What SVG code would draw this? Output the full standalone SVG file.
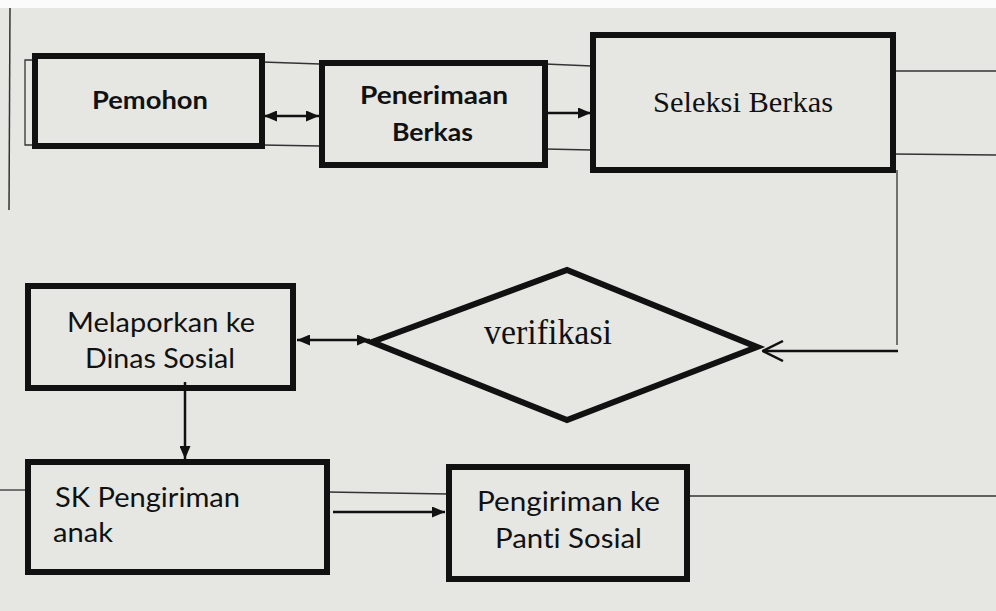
<svg xmlns="http://www.w3.org/2000/svg" width="996" height="611" viewBox="0 0 996 611">
<defs>
<style>
.box{fill:none;stroke:#111;stroke-width:6}
.thin{fill:none;stroke:#333;stroke-width:1.3}
.conn{fill:none;stroke:#111;stroke-width:2.5}
text{font-variant-ligatures:none}
.sans{font-family:Lato,"Open Sans","Liberation Sans",sans-serif;fill:#111}
.serif{font-family:"Liberation Serif","DejaVu Serif",serif;fill:#111}
</style>
<marker id="ah" viewBox="0 0 13 11" refX="13" refY="5.5" markerWidth="13" markerHeight="11" markerUnits="userSpaceOnUse" orient="auto-start-reverse">
<path d="M0,0 L13,5.5 L0,11 Z" fill="#111"/>
</marker>
<marker id="open" viewBox="0 0 22 22" refX="21" refY="11" markerWidth="22" markerHeight="22" markerUnits="userSpaceOnUse" orient="auto">
<path d="M1,1 L21,11 L1,21" fill="none" stroke="#111" stroke-width="2.5"/>
</marker>
</defs>
<rect x="0" y="0" width="996" height="611" fill="#e6e7e3"/>
<rect x="0" y="0" width="996" height="8" fill="#fbfbfb"/>
<line x1="10" y1="8" x2="9" y2="210" stroke="#333" stroke-width="1.5"/>

<g id="connectors">
<path class="thin" d="M35,60 H25 V145 H35"/>
<line class="thin" x1="262" y1="62" x2="320" y2="64"/>
<line class="thin" x1="262" y1="145" x2="320" y2="146"/>
<line class="thin" x1="545" y1="64" x2="592" y2="66"/>
<line class="thin" x1="545" y1="149" x2="592" y2="150"/>
<line class="thin" x1="893" y1="71" x2="996" y2="71"/>
<line class="thin" x1="893" y1="154" x2="996" y2="155"/>
<line class="thin" x1="0" y1="490" x2="27" y2="490"/>
<line class="thin" x1="327" y1="492" x2="448" y2="494"/>
<line class="thin" x1="687" y1="496" x2="996" y2="496"/>
<line class="conn" x1="264" y1="116" x2="319" y2="116" marker-start="url(#ah)" marker-end="url(#ah)"/>
<line class="conn" x1="548" y1="113" x2="591" y2="113" marker-end="url(#ah)"/>
<path class="thin" d="M897,170 V345"/>
<line class="conn" x1="898" y1="351" x2="763" y2="351" stroke-width="3" marker-end="url(#open)"/>
<line class="conn" x1="297" y1="340" x2="370" y2="340" marker-start="url(#ah)" marker-end="url(#ah)"/>
<line class="conn" x1="185" y1="382" x2="185" y2="459" stroke-width="2" marker-end="url(#ah)"/>
<line class="conn" x1="333" y1="512" x2="445" y2="512" marker-end="url(#ah)"/>
</g>

<g id="pemohon">
<rect class="box" x="35" y="56" width="227" height="90"/>
<text class="sans" x="92" y="109" font-size="25" font-weight="bold" textLength="116" lengthAdjust="spacingAndGlyphs">Pemohon</text>
</g>
<g id="penerimaan">
<rect class="box" x="322" y="63" width="223" height="102"/>
<text class="sans" x="360" y="104" font-size="25" font-weight="bold" textLength="148" lengthAdjust="spacingAndGlyphs">Penerimaan</text>
<text class="sans" x="392" y="141" font-size="25" font-weight="bold" textLength="81" lengthAdjust="spacingAndGlyphs">Berkas</text>
</g>
<g id="seleksi">
<rect class="box" x="593" y="35" width="300" height="135"/>
<text class="serif" x="653" y="112" font-size="30" textLength="180" lengthAdjust="spacingAndGlyphs">Seleksi Berkas</text>
</g>
<g id="verifikasi">
<polygon points="372,342 567,270 757,347 567,420" fill="none" stroke="#111" stroke-width="6" stroke-linejoin="miter"/>
<text class="serif" x="484" y="344" font-size="35" textLength="128" lengthAdjust="spacingAndGlyphs">verifikasi</text>
</g>
<g id="melaporkan">
<rect class="box" x="28" y="286" width="265" height="102"/>
<text class="sans" x="67" y="332" font-size="26" textLength="188" lengthAdjust="spacingAndGlyphs">Melaporkan ke</text>
<text class="sans" x="85" y="368" font-size="26" textLength="150" lengthAdjust="spacingAndGlyphs">Dinas Sosial</text>
</g>
<g id="sk">
<rect class="box" x="28" y="462" width="299" height="110"/>
<text class="sans" x="55" y="507" font-size="26" textLength="185" lengthAdjust="spacingAndGlyphs">SK Pengiriman</text>
<text class="sans" x="53" y="542" font-size="26" textLength="60" lengthAdjust="spacingAndGlyphs">anak</text>
</g>
<g id="pengiriman">
<rect class="box" x="449" y="467" width="238" height="112"/>
<text class="sans" x="477" y="511" font-size="26" textLength="183" lengthAdjust="spacingAndGlyphs">Pengiriman ke</text>
<text class="sans" x="495" y="548" font-size="26" textLength="147" lengthAdjust="spacingAndGlyphs">Panti Sosial</text>
</g>
</svg>
